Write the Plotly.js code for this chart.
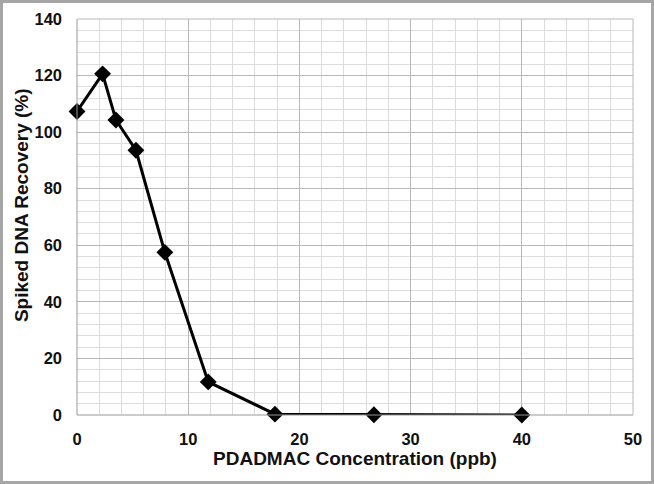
<!DOCTYPE html>
<html><head><meta charset="utf-8">
<script src="https://cdn.plot.ly/plotly-3.0.1.min.js"></script>
<style>
html,body{margin:0;padding:0;background:#fff;}
#wrap{position:relative;width:654px;height:484px;}
#chart{width:654px;height:484px;}
#frame{position:absolute;left:0;top:0;width:654px;height:484px;box-sizing:border-box;border:3px solid #a6a6a6;pointer-events:none;}
</style></head>
<body>
<div id="wrap"><div id="chart"></div><div id="frame"></div></div>
<script>
const concentration = [0, 2.3, 3.5, 5.3, 7.9, 11.8, 17.8, 26.7, 40];
const recovery = [107.3, 120.6, 104.3, 93.6, 57.5, 11.7, 0.3, 0.1, 0];
const xTicks = [0, 10, 20, 30, 40, 50];
const yTicks = [0, 20, 40, 60, 80, 100, 120, 140];
const xTitle = 'PDADMAC Concentration (ppb)';
const yTitle = 'Spiked DNA Recovery (%)';

const tickFont = {family: 'Liberation Sans', size: 16.5, color: '#111', weight: 700};
const titleFont = {family: 'Liberation Sans', size: 19, color: '#111', weight: 700};

const trace = {
  x: concentration, y: recovery, type: 'scatter', mode: 'lines+markers',
  line: {color: '#000', width: 3},
  marker: {symbol: 'diamond', size: 13, color: '#000'},
  cliponaxis: false, hoverinfo: 'skip'
};

const layout = {
  width: 654, height: 484,
  margin: {l: 77, r: 21, t: 19, b: 69},
  paper_bgcolor: '#fff', plot_bgcolor: '#fff',
  showlegend: false,
  xaxis: {
    range: [0, 50], tickvals: xTicks, ticktext: xTicks.map(String),
    showgrid: true, gridcolor: '#b8b8b8', gridwidth: 1,
    minor: {dtick: 2, showgrid: true, gridcolor: '#dcdcdc', gridwidth: 1},
    zeroline: false, showline: false, ticks: '',
    tickfont: tickFont, ticklabelstandoff: 12,
    title: {text: xTitle, font: titleFont, standoff: 5}
  },
  yaxis: {
    range: [0, 140], tickvals: yTicks, ticktext: yTicks.map(String),
    showgrid: true, gridcolor: '#b8b8b8', gridwidth: 1,
    minor: {dtick: 4, showgrid: true, gridcolor: '#dcdcdc', gridwidth: 1},
    zeroline: false, showline: false, ticks: '',
    tickfont: tickFont, ticklabelstandoff: 14
  },
  annotations: [
    {text: yTitle, xref: 'paper', yref: 'paper', x: 0, y: 0.53, xanchor: 'center', yanchor: 'middle',
     xshift: -56, textangle: -90, showarrow: false,
     font: {family: 'Liberation Sans', size: 19, color: '#111', weight: 700}}
  ],
  shapes: [
    {type: 'line', xref: 'paper', yref: 'paper', x0: 0, x1: 1, y0: 0, y1: 0, line: {color: '#999', width: 1}},
    {type: 'line', xref: 'paper', yref: 'paper', x0: 0, x1: 0, y0: 0, y1: 1, line: {color: '#999', width: 1}},
    {type: 'line', xref: 'paper', yref: 'paper', x0: 1, x1: 1, y0: 0, y1: 1, line: {color: '#b8b8b8', width: 1}},
    {type: 'line', xref: 'paper', yref: 'paper', x0: 0, x1: 1, y0: 1, y1: 1, line: {color: '#b8b8b8', width: 1}}
  ]
};

Plotly.newPlot('chart', [trace], layout, {staticPlot: true, displayModeBar: false});
</script>
</body></html>
